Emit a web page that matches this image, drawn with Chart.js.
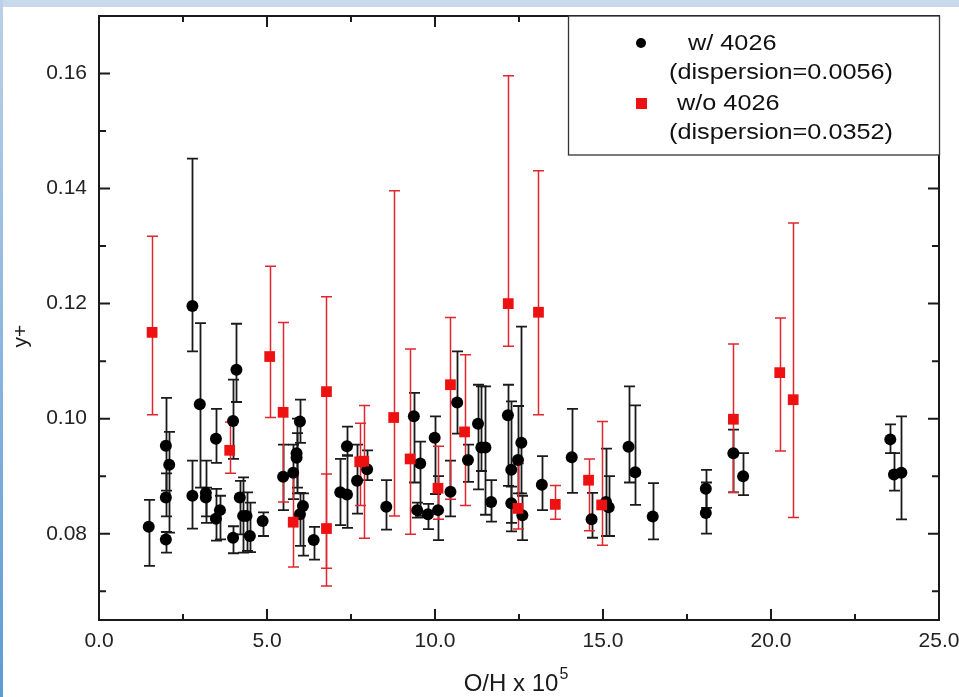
<!DOCTYPE html>
<html>
<head>
<meta charset="utf-8">
<script src="https://cdn.jsdelivr.net/npm/chart.js@4/dist/chart.umd.min.js"></script>
<style>
html,body{margin:0;padding:0;background:#fff;}
canvas{display:block;}
</style>
</head>
<body>
<canvas id="chart" width="959" height="697"></canvas>
<script>
// data: x = O/H x 10^5, y = y+, hi/lo = error bar ends
const blackX  = [1.48, 1.99, 2.09, 1.99, 1.99, 2.78, 2.78, 3.00, 3.18, 3.18, 3.48, 3.48, 3.60, 3.99, 4.09, 3.99, 4.19, 4.29, 4.39, 4.49,
                 4.87, 5.48, 5.78, 5.88, 5.88, 5.98, 5.98, 6.07, 6.39, 7.18, 7.38, 7.38, 7.68, 7.98, 8.55, 9.37, 9.56, 9.47, 9.79, 9.99,
                 10.09, 10.46, 10.66, 10.98, 11.28, 11.38, 11.50, 11.67, 12.17, 12.27, 12.27, 12.47, 12.57, 12.60, 13.18, 14.07, 14.66, 15.09, 15.17, 15.76,
                 15.96, 16.48, 18.06, 18.06, 18.88, 19.17, 23.55, 23.66, 23.88];
const blackY  = [0.0812, 0.0953, 0.0920, 0.0863, 0.0790, 0.1196, 0.0866, 0.1025, 0.0871, 0.0863, 0.0965, 0.0826, 0.0841, 0.0996, 0.1085, 0.0793, 0.0863, 0.0831, 0.0831, 0.0796,
                 0.0822, 0.0899, 0.0906, 0.0940, 0.0932, 0.0995, 0.0834, 0.0848, 0.0789, 0.0872, 0.0952, 0.0868, 0.0892, 0.0912, 0.0847, 0.1004, 0.0922, 0.0841, 0.0834, 0.0967,
                 0.0841, 0.0873, 0.1028, 0.0928, 0.0991, 0.0950, 0.0950, 0.0855, 0.1006, 0.0911, 0.0853, 0.0928, 0.0958, 0.0832, 0.0885, 0.0933, 0.0825, 0.0855, 0.0846, 0.0951,
                 0.0907, 0.0830, 0.0878, 0.0836, 0.0940, 0.0900, 0.0964, 0.0903, 0.0906];
const blackHi = [0.0859, 0.1036, 0.0977, 0.0905, 0.0803, 0.1452, 0.0927, 0.1166, 0.0927, 0.0880, 0.1017, 0.0878, 0.0866, 0.1068, 0.1165, 0.0813, 0.0892, 0.0898, 0.0872, 0.0854,
                 0.0837, 0.0955, 0.0955, 0.1000, 0.0975, 0.1033, 0.0871, 0.0870, 0.0812, 0.0930, 0.0986, 0.0936, 0.0955, 0.0945, 0.0893, 0.1045, 0.0960, 0.0854, 0.0852, 0.1004,
                 0.0900, 0.0927, 0.1117, 0.0955, 0.1059, 0.1056, 0.1056, 0.0893, 0.1059, 0.1030, 0.0882, 0.1022, 0.1160, 0.0866, 0.0935, 0.1017, 0.0871, 0.0948, 0.0900, 0.1056,
                 0.1023, 0.0888, 0.0911, 0.0889, 0.0981, 0.0940, 0.0990, 0.0940, 0.1004];
const blackLo = [0.0744, 0.0875, 0.0802, 0.0830, 0.0767, 0.1117, 0.0809, 0.0880, 0.0819, 0.0830, 0.0923, 0.0788, 0.0790, 0.0930, 0.1029, 0.0766, 0.0799, 0.0767, 0.0770, 0.0768,
                 0.0796, 0.0841, 0.0860, 0.0880, 0.0870, 0.0958, 0.0779, 0.0762, 0.0755, 0.0815, 0.0936, 0.0810, 0.0835, 0.0893, 0.0807, 0.0889, 0.0831, 0.0828, 0.0808, 0.0869,
                 0.0789, 0.0830, 0.0974, 0.0890, 0.0877, 0.0909, 0.0833, 0.0821, 0.0883, 0.0804, 0.0819, 0.0870, 0.0870, 0.0789, 0.0841, 0.0871, 0.0793, 0.0796, 0.0796, 0.0889,
                 0.0850, 0.0790, 0.0845, 0.0800, 0.0872, 0.0867, 0.0940, 0.0875, 0.0825];

const redX  = [1.58, 3.89, 5.08, 5.48, 5.78, 6.77, 6.77, 7.76, 7.88, 8.77, 9.26, 10.09, 10.46, 10.88, 12.18, 12.47, 13.08, 13.58, 14.57, 14.96, 18.88, 20.26, 20.66];
const redY  = [0.1150, 0.0945, 0.1108, 0.1011, 0.0820, 0.1047, 0.0809, 0.0925, 0.0926, 0.1002, 0.0930, 0.0879, 0.1059, 0.0977, 0.1200, 0.0844, 0.1185, 0.0851, 0.0893, 0.0850, 0.0999, 0.1080, 0.1033];
const redHi = [0.1317, 0.0994, 0.1265, 0.1167, 0.0900, 0.1212, 0.0904, 0.0992, 0.1023, 0.1396, 0.1121, 0.0952, 0.1176, 0.1111, 0.1596, 0.0922, 0.1431, 0.0884, 0.0930, 0.0995, 0.1130, 0.1175, 0.1340];
const redLo = [0.1007, 0.0905, 0.1002, 0.0855, 0.0742, 0.0709, 0.0740, 0.0849, 0.0792, 0.0831, 0.0799, 0.0825, 0.0860, 0.0849, 0.1126, 0.0808, 0.1007, 0.0825, 0.0805, 0.0780, 0.0872, 0.0944, 0.0828];

const xTicks = [0, 5, 10, 15, 20, 25];
const yTicks = [0.08, 0.10, 0.12, 0.14, 0.16];
const legendLines = [['w/ 4026', '(dispersion=0.0056)'], ['w/o 4026', '(dispersion=0.0352)']];
const xTitle = ['O/H x 10', '5'];
const yTitle = 'y+';

const FONT = "'Liberation Sans', Arial, sans-serif";
const toPoints = (xs, ys, hi, lo) => xs.map((x, i) => ({x, y: ys[i], hi: hi[i], lo: lo[i]}));
const isMajor = (v, list) => list.some(t => Math.abs(t - v) < 1e-9);
const noPad = s => { s.paddingLeft = 0; s.paddingRight = 0; s.paddingTop = 0; s.paddingBottom = 0; };

// blue slide frame behind the chart
const frameBg = {
  id: 'frameBg',
  beforeDraw(chart){
    const {ctx, width, height} = chart;
    ctx.save();
    ctx.fillStyle = '#fff';
    ctx.fillRect(0, 0, width, height);
    ctx.fillStyle = '#c9d9ec';
    ctx.fillRect(0, 0, width, 7);
    const g = ctx.createLinearGradient(0, 0, 0, height);
    g.addColorStop(0, '#bcd0e8');
    g.addColorStop(1, '#5b9bd5');
    ctx.fillStyle = g;
    ctx.fillRect(0, 0, 3, height);
    ctx.restore();
  }
};

// error bars with caps
const errorBars = {
  id: 'errorBars',
  beforeDatasetsDraw(chart){
    const {ctx, scales: {x, y}} = chart;
    [...chart.data.datasets].reverse().forEach(ds => {
      ctx.save();
      ctx.strokeStyle = ds.barColor;
      ctx.lineWidth = ds.barWidth;
      const cap = 5.5;
      ds.data.forEach(p => {
        const px = Math.round(x.getPixelForValue(p.x)) + 0.5;
        const t = y.getPixelForValue(p.hi), b = y.getPixelForValue(p.lo);
        ctx.beginPath();
        ctx.moveTo(px, t); ctx.lineTo(px, b);
        ctx.moveTo(px - cap, t); ctx.lineTo(px + cap, t);
        ctx.moveTo(px - cap, b); ctx.lineTo(px + cap, b);
        ctx.stroke();
      });
      ctx.restore();
    });
  }
};

// box frame with inward ticks on all four sides, plus axis titles
const boxTicks = {
  id: 'boxTicks',
  afterDatasetsDraw(chart){
    const {ctx, chartArea: a, scales: {x, y}} = chart;
    ctx.save();
    ctx.strokeStyle = '#1a1a1a';
    ctx.lineWidth = 2;
    ctx.strokeRect(a.left, a.top, a.right - a.left, a.bottom - a.top);
    ctx.beginPath();
    x.ticks.forEach(t => {
      const px = x.getPixelForValue(t.value);
      const len = isMajor(t.value, xTicks) ? 11 : 6;
      ctx.moveTo(px, a.bottom); ctx.lineTo(px, a.bottom - len);
      ctx.moveTo(px, a.top); ctx.lineTo(px, a.top + len);
    });
    y.ticks.forEach(t => {
      const v = Math.round(t.value * 1000) / 1000;
      if (Math.abs(v * 100 - Math.round(v * 100)) > 1e-6) return;
      const py = y.getPixelForValue(t.value);
      const len = isMajor(v, yTicks) ? 11 : 7;
      ctx.moveTo(a.left, py); ctx.lineTo(a.left + len, py);
      ctx.moveTo(a.right, py); ctx.lineTo(a.right - len, py);
    });
    ctx.stroke();

    // axis titles
    ctx.fillStyle = '#1a1a1a';
    ctx.textBaseline = 'middle';
    ctx.font = `24px ${FONT}`;
    const w = ctx.measureText(xTitle[0]).width;
    ctx.font = `16px ${FONT}`;
    const w5 = ctx.measureText(xTitle[1]).width;
    const x0 = (a.left + a.right) / 2 - (w + w5 + 1) / 2 - 3;
    ctx.font = `24px ${FONT}`;
    ctx.textAlign = 'left';
    ctx.fillText(xTitle[0], x0, 684);
    ctx.font = `16px ${FONT}`;
    ctx.fillText(xTitle[1], x0 + w + 1, 675);
    ctx.save();
    ctx.translate(21, 336);
    ctx.rotate(-Math.PI / 2);
    ctx.textAlign = 'center';
    ctx.font = `21px ${FONT}`;
    ctx.fillText(yTitle, 0, 0);
    ctx.restore();
    ctx.restore();
  }
};

// legend box in the upper right corner (text is a bit wide in the original)
const legendBox = {
  id: 'legendBox',
  afterDraw(chart){
    const {ctx, chartArea: a} = chart;
    const L = 568, B = 155;
    ctx.save();
    ctx.fillStyle = '#fff';
    ctx.fillRect(L, a.top, a.right - L, B - a.top);
    ctx.strokeStyle = '#333';
    ctx.lineWidth = 1.3;
    ctx.strokeRect(L + 0.5, a.top, a.right - L, B - a.top);
    ctx.fillStyle = '#000';
    ctx.beginPath(); ctx.arc(641, 43, 5, 0, Math.PI * 2); ctx.fill();
    ctx.fillStyle = '#ee1111';
    ctx.fillRect(636, 98, 11, 11);
    ctx.fillStyle = '#111';
    ctx.font = `22px ${FONT}`;
    ctx.textBaseline = 'middle';
    const sx = 224 / ctx.measureText(legendLines[0][1]).width;
    const put = (txt, tx, ty) => {
      ctx.save(); ctx.translate(tx, ty); ctx.scale(sx, 1); ctx.fillText(txt, 0, 0); ctx.restore();
    };
    put(legendLines[0][0], 688, 44);
    put(legendLines[0][1], 669, 73);
    put(legendLines[1][0], 677, 104);
    put(legendLines[1][1], 669, 133);
    ctx.restore();
  }
};

new Chart(document.getElementById('chart'), {
  type: 'scatter',
  data: {
    datasets: [
      { label: 'w/o 4026', data: toPoints(redX, redY, redHi, redLo), order: 0,
        pointStyle: 'rect', pointRadius: 7.6, backgroundColor: '#ee1111', borderColor: '#ee1111', borderWidth: 0,
        barColor: '#e0262e', barWidth: 1.5 },
      { label: 'w/ 4026', data: toPoints(blackX, blackY, blackHi, blackLo), order: 1,
        pointStyle: 'circle', pointRadius: 6, backgroundColor: '#000', borderColor: '#000', borderWidth: 0,
        barColor: '#1a1a1a', barWidth: 1.8 }
    ]
  },
  options: {
    responsive: false,
    animation: false,
    events: [],
    layout: { padding: { top: 16, right: 20, left: 0, bottom: 0 } },
    plugins: { legend: { display: false }, tooltip: { enabled: false } },
    scales: {
      x: {
        type: 'linear', min: 0, max: 25,
        afterFit: s => { s.height = 77; noPad(s); },
        border: { display: false },
        grid: { display: false, drawTicks: false },
        ticks: { stepSize: 2.5, padding: 9, color: '#222', font: { family: FONT, size: 21 },
                 callback: v => isMajor(v, xTicks) ? v.toFixed(1) : '' }
      },
      y: {
        type: 'linear', min: 0.065, max: 0.17,
        afterFit: s => { s.width = 99; noPad(s); },
        border: { display: false },
        grid: { display: false, drawTicks: false },
        ticks: { stepSize: 0.01, padding: 12, color: '#222', font: { family: FONT, size: 21 },
                 callback: v => isMajor(Math.round(v * 1000) / 1000, yTicks) ? v.toFixed(2) : '' }
      }
    }
  },
  plugins: [frameBg, errorBars, boxTicks, legendBox]
});
</script>
</body>
</html>
